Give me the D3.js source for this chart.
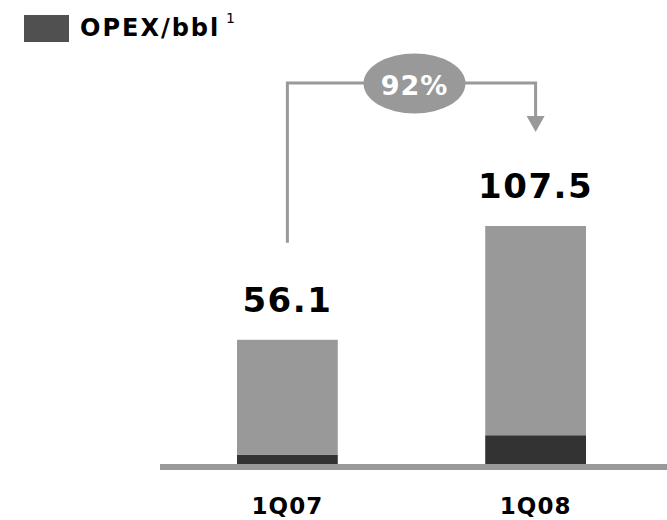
<!DOCTYPE html>
<html>
<head>
<meta charset="utf-8">
<script src="https://cdn.jsdelivr.net/npm/d3@7"></script>
<style>
  body { margin: 0; background: #fff; }
  svg text { font-family: "DejaVu Sans", Verdana, sans-serif; }
</style>
</head>
<body>
<div id="vis"></div>
<script>
// chart values
const categories = ["1Q07", "1Q08"];
const opexValues = [4.1, 13.0];     // dark bottom segment
const otherValues = [52.0, 94.5];   // light upper segment
const totalLabels = ["56.1", "107.5"];
const growthLabel = "92%";
const legendLabel = "OPEX/bbl";

const width = 667, height = 520;
const baseY = 464;

const svg = d3.select("#vis")
  .append("svg")
  .attr("width", width)
  .attr("height", height);

// scales
const x = d3.scaleBand()
  .domain(categories)
  .range([237, 586])
  .paddingInner(0.594)
  .paddingOuter(0);

const y = d3.scaleLinear()
  .domain([0, 120])
  .range([baseY, baseY - 120 * 2.214]);

const rows = categories.map((c, i) => ({ cat: c, opex: opexValues[i], other: otherValues[i] }));
const stacked = d3.stack().keys(["opex", "other"])(rows);
const colors = { opex: "#333333", other: "#999999" };

// bars
svg.append("g")
  .selectAll("g")
  .data(stacked)
  .join("g")
  .attr("fill", d => colors[d.key])
  .selectAll("rect")
  .data(d => d)
  .join("rect")
  .attr("x", d => x(d.data.cat))
  .attr("width", x.bandwidth())
  .attr("y", d => y(d[1]))
  .attr("height", d => y(d[0]) - y(d[1]));

// baseline
svg.append("line")
  .attr("x1", 160).attr("x2", width)
  .attr("y1", baseY + 3).attr("y2", baseY + 3)
  .attr("stroke", "#999999")
  .attr("stroke-width", 6);

// category labels via axis
const xAxis = svg.append("g")
  .attr("transform", `translate(0,${baseY})`)
  .call(d3.axisBottom(x).tickSize(0).tickPadding(34));
xAxis.select(".domain").remove();
xAxis.selectAll("text")
  .attr("font-family", "DejaVu Sans, Verdana, sans-serif")
  .attr("font-size", 23)
  .attr("font-weight", "bold")
  .attr("letter-spacing", 1)
  .attr("fill", "#000");

// total labels
svg.append("g")
  .selectAll("text")
  .data(rows)
  .join("text")
  .attr("x", d => x(d.cat) + x.bandwidth() / 2)
  .attr("y", d => y(d.opex + d.other) - 28)
  .attr("text-anchor", "middle")
  .attr("font-size", 34)
  .attr("font-weight", "bold")
  .attr("letter-spacing", 1.5)
  .attr("fill", "#000")
  .text((d, i) => totalLabels[i]);

// growth connector
const cx0 = x(categories[0]) + x.bandwidth() / 2;
const cx1 = x(categories[1]) + x.bandwidth() / 2;
const topY = 83;
const startY = y(opexValues[0] + otherValues[0]) - 97;
const tipY = y(opexValues[1] + otherValues[1]) - 94;

svg.append("path")
  .attr("d", `M${cx0},${startY}V${topY}H${cx1}V${tipY - 14}`)
  .attr("fill", "none")
  .attr("stroke", "#999999")
  .attr("stroke-width", 3);

svg.append("path")
  .attr("d", `M${cx1 - 9},${tipY - 16}L${cx1 + 9},${tipY - 16}L${cx1},${tipY}Z`)
  .attr("fill", "#999999");

const ex = (cx0 + cx1) / 2 + 3;
svg.append("ellipse")
  .attr("cx", ex).attr("cy", topY + 0.5)
  .attr("rx", 51).attr("ry", 30)
  .attr("fill", "#999999");

svg.append("text")
  .attr("x", ex).attr("y", topY + 12)
  .attr("text-anchor", "middle")
  .attr("font-size", 27)
  .attr("font-weight", "bold")
  .attr("letter-spacing", 1)
  .attr("fill", "#fff")
  .text(growthLabel);

// legend
const legend = svg.append("g");
legend.append("rect")
  .attr("x", 24).attr("y", 15)
  .attr("width", 45).attr("height", 27)
  .attr("fill", "#505050");
legend.append("text")
  .attr("x", 80).attr("y", 36)
  .attr("font-size", 24)
  .attr("font-weight", "bold")
  .attr("letter-spacing", 2)
  .attr("fill", "#000")
  .text(legendLabel);
legend.append("text")
  .attr("x", 226).attr("y", 23)
  .attr("font-size", 14)
  .attr("fill", "#000")
  .text("1");
</script>
</body>
</html>
